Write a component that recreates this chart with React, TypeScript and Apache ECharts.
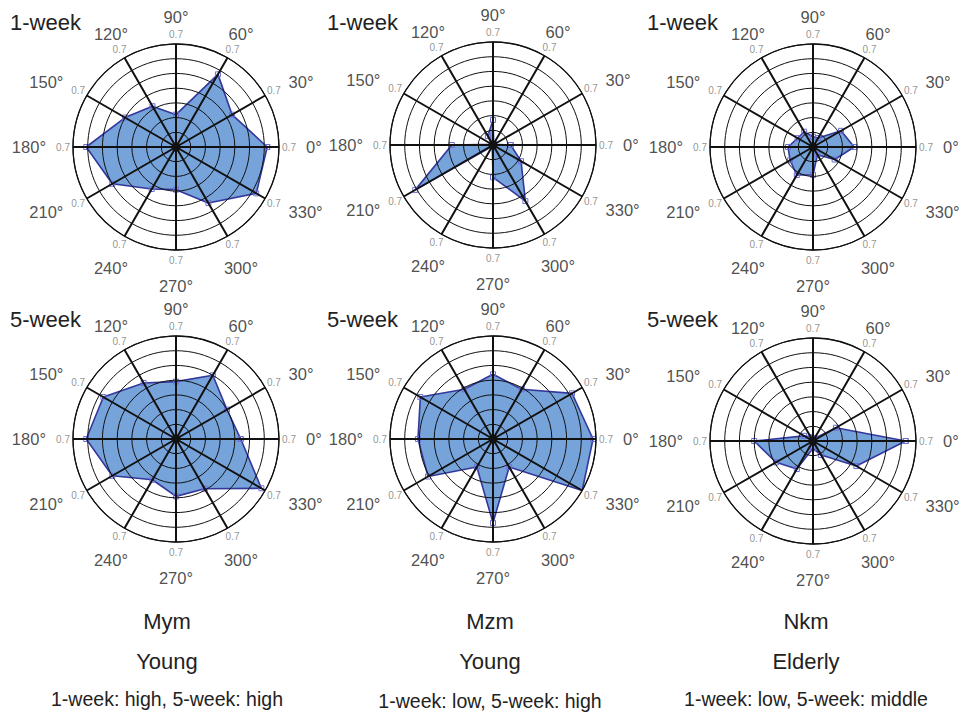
import React, { useEffect, useRef } from 'react';
import * as echarts from 'echarts';

// Directions (degrees) and radius scale
const ANGLES = [0, 30, 60, 90, 120, 150, 180, 210, 240, 270, 300, 330];
const RADIUS_MAX = 0.7;
const RADIUS_STEP = 0.1;
const ANGLE_LABELS = ANGLES.map((a) => `${a}°`);

// Values per subject & period (order follows ANGLES)
const MYM_1W = [0.62, 0.44, 0.57, 0.22, 0.32, 0.40, 0.61, 0.50, 0.33, 0.29, 0.44, 0.63];
const MZM_1W = [0.12, 0.01, 0.01, 0.17, 0.07, 0.01, 0.28, 0.61, 0.01, 0.22, 0.44, 0.22];
const NKM_1W = [0.28, 0.22, 0.07, 0.07, 0.12, 0.12, 0.17, 0.18, 0.22, 0.19, 0.06, 0.17];
const MYM_5W = [0.44, 0.40, 0.50, 0.39, 0.44, 0.57, 0.61, 0.50, 0.32, 0.39, 0.39, 0.67];
const MZM_5W = [0.68, 0.62, 0.39, 0.44, 0.39, 0.57, 0.51, 0.51, 0.22, 0.57, 0.22, 0.70];
const NKM_5W = [0.63, 0.18, 0.02, 0.02, 0.03, 0.07, 0.40, 0.29, 0.22, 0.05, 0.11, 0.34];

const ROW_LABELS = ['1-week', '5-week'];
const SUBJECTS = ['Mym', 'Mzm', 'Nkm'];
const GROUPS = ['Young', 'Young', 'Elderly'];
const NOTES = ['1-week: high, 5-week: high', '1-week: low, 5-week: high', '1-week: low, 5-week: middle'];

const PANELS = [MYM_1W, MZM_1W, NKM_1W, MYM_5W, MZM_5W, NKM_5W];

// layout
const CENTERS: [number, number][] = [
  [176, 147], [493, 145], [813, 147],
  [176, 439], [493, 439], [813, 441],
];
const R = 103;
const DEG_LABEL_PX = 130; // anchor distance of the angle labels
const LIM_LABEL_PX = 113; // centre distance of the "0.7" labels
const COL_X = [167, 490, 806];
const TITLE_X = [10, 327, 647];
const TITLE_Y = [22, 319];

const FONT = '"Liberation Sans", Arial, sans-serif';

export default function App() {
  const ref = useRef<HTMLDivElement>(null);
  useEffect(() => {
    if (!ref.current) return;
    const chart = echarts.init(ref.current, undefined, { renderer: 'svg' });
    const polar: any[] = [];
    const angleAxis: any[] = [];
    const radiusAxis: any[] = [];
    const series: any[] = [];
    const degR = (RADIUS_MAX * DEG_LABEL_PX) / R;
    const limR = (RADIUS_MAX * LIM_LABEL_PX) / R;
    PANELS.forEach((vals, i) => {
      const c = CENTERS[i];
      polar.push({ center: [c[0], c[1]], radius: R });
      angleAxis.push({
        polarIndex: i,
        type: 'value', min: 0, max: 360, interval: 30,
        startAngle: 0, clockwise: false, z: 10,
        axisLine: { show: true, lineStyle: { color: '#111', width: 1.3 } },
        axisTick: { show: false },
        axisLabel: { show: false },
        splitLine: { show: true, lineStyle: { color: '#111', width: 2 } },
      });
      radiusAxis.push({
        polarIndex: i,
        type: 'value', min: 0, max: RADIUS_MAX, interval: RADIUS_STEP, z: 10,
        axisLine: { show: false }, axisTick: { show: false }, axisLabel: { show: false },
        splitLine: { show: true, lineStyle: { color: '#111', width: 1 } },
      });
      const data = ANGLES.map((a, k) => [vals[k], a]);
      data.push([vals[0], 360]);
      series.push({
        type: 'line', coordinateSystem: 'polar', polarIndex: i, z: 1,
        data,
        symbol: 'rect', symbolSize: 5,
        itemStyle: { color: '#ffffff00', borderColor: '#6a6fd6', borderWidth: 1 },
        lineStyle: { color: '#34389c', width: 1.6 },
        areaStyle: { color: '#76a3da', opacity: 1 },
        silent: true,
      });
      series.push({
        type: 'scatter', coordinateSystem: 'polar', polarIndex: i, z: 20,
        data: [[0, 0]], symbol: 'circle', symbolSize: 9,
        itemStyle: { color: '#111' }, silent: true,
      });
      // angle labels
      series.push({
        type: 'scatter', coordinateSystem: 'polar', polarIndex: i, z: 20, clip: false,
        symbolSize: 1, itemStyle: { color: 'rgba(0,0,0,0)' }, silent: true,
        label: { show: true, position: 'inside', formatter: (p: any) => p.name, fontSize: 16.5, color: '#222', fontFamily: FONT },
        data: ANGLES.map((a, k) => {
          const cs = Math.cos((a * Math.PI) / 180);
          const sn = Math.sin((a * Math.PI) / 180);
          return {
            name: ANGLE_LABELS[k], value: [degR, a],
            label: {
              align: cs > 0.6 ? 'left' : cs < -0.6 ? 'right' : 'center',
              verticalAlign: sn < -0.6 ? 'top' : 'middle',
            },
          };
        }),
      });
      // radius-limit labels
      series.push({
        type: 'scatter', coordinateSystem: 'polar', polarIndex: i, z: 20, clip: false,
        symbolSize: 1, itemStyle: { color: 'rgba(0,0,0,0)' }, silent: true,
        label: { show: true, position: 'inside', formatter: () => String(RADIUS_MAX), fontSize: 10, color: '#777', fontFamily: FONT, align: 'center', verticalAlign: 'middle' },
        data: ANGLES.map((a) => [limR, a]),
      });
    });

    const graphic: any[] = [];
    ROW_LABELS.forEach((t, r) => {
      TITLE_X.forEach((x) => {
        graphic.push({
          type: 'text', x, y: TITLE_Y[r],
          style: { text: t, font: `22px ${FONT}`, fill: '#222', textVerticalAlign: 'middle' },
        });
      });
    });
    SUBJECTS.forEach((s, j) => {
      graphic.push({ type: 'text', x: COL_X[j], y: 621, style: { text: s, font: `22px ${FONT}`, fill: '#222', textAlign: 'center', textVerticalAlign: 'middle' } });
      graphic.push({ type: 'text', x: COL_X[j], y: 661, style: { text: GROUPS[j], font: `22px ${FONT}`, fill: '#222', textAlign: 'center', textVerticalAlign: 'middle' } });
      graphic.push({ type: 'text', x: COL_X[j], y: j === 1 ? 701 : 699, style: { text: NOTES[j], font: `19.5px ${FONT}`, fill: '#222', textAlign: 'center', textVerticalAlign: 'middle' } });
    });

    chart.setOption({
      animation: false,
      backgroundColor: '#fff',
      polar, angleAxis, radiusAxis, series, graphic,
    });
    return () => chart.dispose();
  }, []);
  return <div ref={ref} style={{ position: 'absolute', left: 0, top: 0, width: 959, height: 714 }} />;
}
